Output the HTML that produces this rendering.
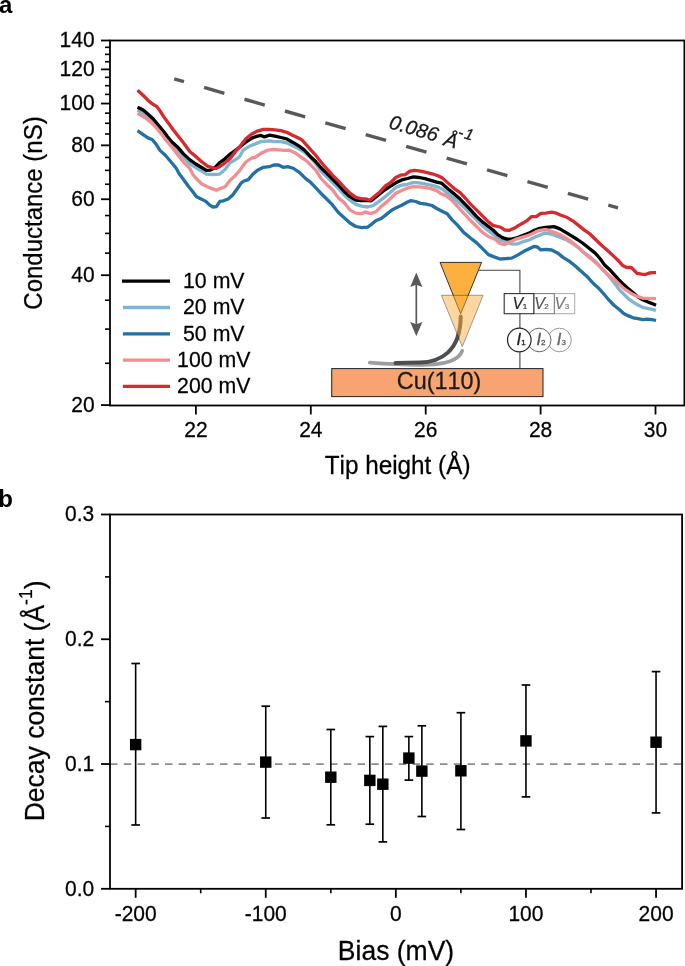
<!DOCTYPE html>
<html><head><meta charset="utf-8"><style>
html,body{margin:0;padding:0;background:#fff;}
body{width:685px;height:966px;overflow:hidden;}
svg{display:block;font-family:"Liberation Sans", sans-serif;will-change:transform;font-kerning:none;}
text{stroke:#000;stroke-width:0.25px;}
</style></head><body>
<svg width="685" height="966" viewBox="0 0 685 966">
<text x="-0.9" y="13.2" font-size="24" font-weight="bold" style="stroke-width:0">a</text>
<polyline points="137.5,130.7 142.8,134.3 147.9,137.9 152.1,139.5 155.7,143.6 160.0,150.4 165.8,155.7 171.7,162.7 176.4,168.5 179.0,173.4 183.7,179.8 188.4,186.2 193.0,192.0 196.5,196.7 201.2,199.0 205.9,201.4 209.4,204.9 212.9,207.0 216.4,206.6 219.9,201.4 223.4,200.8 228.1,199.0 232.7,195.0 237.4,188.5 240.9,183.3 243.5,181.3 248.2,179.6 252.8,174.3 257.5,170.2 263.4,167.3 269.2,166.7 273.9,165.0 278.5,165.0 283.2,167.3 287.9,166.7 293.7,168.5 299.6,172.6 305.4,178.4 310.1,181.9 314.7,186.7 320.8,193.2 326.7,199.0 332.5,204.9 338.4,212.5 344.2,217.7 350.0,223.0 355.9,226.5 361.7,227.7 367.6,227.1 371.1,224.7 375.7,220.7 381.6,218.3 387.4,213.6 392.0,210.0 395.8,207.9 401.7,205.3 407.5,202.0 411.0,200.6 415.7,201.5 420.4,203.4 426.2,204.1 432.0,205.5 436.7,208.5 442.6,211.4 447.2,213.7 451.9,219.6 457.7,225.4 463.6,232.4 470.8,238.2 476.7,242.9 482.5,248.7 488.4,254.6 494.2,256.9 500.0,259.0 505.9,258.6 511.7,258.1 517.6,255.1 523.4,251.6 529.2,248.7 533.9,246.4 537.4,247.0 540.9,249.9 545.8,249.4 551.7,250.0 557.5,252.9 563.4,257.6 569.2,261.1 575.0,265.7 580.9,271.0 586.7,276.2 592.6,282.7 598.4,287.9 604.7,295.0 609.5,300.7 614.2,305.5 619.0,309.3 623.7,313.5 628.5,315.9 633.2,317.8 638.0,318.7 642.7,319.7 647.4,319.2 652.2,319.7 656.0,320.5" fill="none" stroke="#2370a5" stroke-width="3.3" stroke-linejoin="round"/>
<polyline points="137.5,110.1 142.0,112.5 147.9,116.5 153.1,121.3 158.3,127.5 163.5,133.7 171.7,144.2 177.5,149.8 183.4,157.0 190.0,164.0 195.8,167.5 201.7,171.0 206.4,174.2 213.4,174.5 219.2,174.2 222.7,171.6 226.2,168.1 230.0,162.8 235.1,159.9 239.7,156.5 243.5,149.8 249.3,146.3 255.2,143.9 261.0,141.6 269.2,140.8 275.0,141.6 280.9,141.6 286.7,142.8 292.6,145.7 298.4,148.6 304.2,152.1 310.1,157.4 315.9,163.8 320.8,171.0 326.7,176.9 332.5,182.7 338.4,188.5 344.2,195.0 350.0,200.2 355.9,204.3 361.7,206.1 367.6,207.0 373.4,205.5 379.2,201.4 385.1,196.7 390.9,192.0 395.8,187.4 401.7,185.1 407.5,184.3 413.4,182.4 419.2,182.8 425.0,183.9 430.9,185.1 436.7,186.6 442.6,189.2 448.4,193.9 454.2,198.5 460.1,203.8 465.5,208.8 470.8,214.3 476.7,220.1 482.5,226.0 488.4,230.6 494.2,235.3 500.0,240.0 505.9,241.7 511.7,244.1 517.6,243.8 523.4,241.7 529.2,240.0 535.1,237.0 539.7,235.3 544.7,233.0 549.3,233.6 555.2,235.4 561.0,237.7 566.9,240.0 572.7,243.5 578.5,247.6 584.4,252.9 590.2,257.0 596.1,262.2 600.0,266.6 604.7,271.5 609.5,277.0 614.2,282.7 619.0,289.3 623.7,294.1 628.5,298.8 633.2,302.1 638.0,305.0 642.7,307.4 647.4,308.3 652.2,309.3 656.0,310.4" fill="none" stroke="#7fb5d0" stroke-width="3.3" stroke-linejoin="round"/>
<polyline points="137.5,107.2 140.2,108.5 143.8,110.5 147.9,114.1 153.1,118.8 158.3,125.0 163.5,131.2 167.0,136.0 171.7,141.7 177.5,146.9 183.4,153.9 190.0,159.9 195.8,164.0 201.7,167.5 206.4,170.4 210.4,170.1 214.5,168.1 219.2,163.1 225.0,158.8 230.0,154.1 232.7,152.3 238.8,147.7 245.8,142.2 251.7,138.1 257.5,136.1 261.0,135.4 264.5,136.9 269.2,135.2 275.0,136.1 280.9,137.5 286.7,138.9 292.6,142.2 298.4,145.7 304.2,149.8 310.1,156.2 315.9,161.8 320.8,167.5 326.7,173.4 332.5,179.2 338.4,185.0 344.2,191.5 350.0,196.7 355.9,200.2 361.0,200.6 365.2,200.4 371.1,200.8 376.9,196.1 382.7,191.5 388.6,187.4 395.8,182.8 401.7,179.9 407.5,178.5 413.4,176.9 419.2,177.5 425.0,178.7 430.9,180.4 436.7,182.2 441.4,183.1 448.4,189.2 454.2,193.9 460.1,199.1 465.5,204.7 470.8,210.2 476.7,216.6 482.5,221.9 488.4,226.5 493.0,230.0 497.7,234.7 502.4,237.6 507.0,239.1 511.7,239.1 517.6,237.6 523.4,235.3 529.2,233.0 535.1,230.0 539.7,228.3 545.8,227.4 554.0,226.6 559.9,228.9 565.7,232.4 571.5,235.9 577.4,239.5 583.2,243.5 589.1,248.2 594.9,252.9 600.0,258.5 604.7,265.1 609.5,269.4 614.2,274.6 619.0,279.8 623.7,284.6 628.5,288.9 633.2,292.7 638.0,296.9 642.7,299.8 647.4,301.7 652.2,303.6 656.0,305.3" fill="none" stroke="#000000" stroke-width="3.3" stroke-linejoin="round"/>
<polyline points="137.5,113.4 140.2,114.9 145.3,117.8 150.5,121.9 155.7,127.1 160.9,133.3 165.8,139.9 171.7,146.9 177.5,154.5 183.4,162.1 190.0,168.7 192.9,174.5 195.8,178.0 201.7,183.9 207.5,186.8 213.4,189.1 216.3,190.3 219.2,189.1 225.0,186.8 230.0,180.4 235.1,175.7 239.7,170.4 245.8,162.0 251.7,158.0 255.2,157.4 261.0,153.3 266.9,150.4 272.7,149.4 278.5,149.8 284.4,150.4 289.0,150.1 294.9,152.7 300.7,156.8 306.6,160.9 312.4,166.7 315.9,170.5 320.8,178.0 326.7,184.5 332.5,189.7 338.4,197.9 344.2,202.6 350.0,210.1 355.9,213.1 361.7,213.6 365.2,211.9 369.9,213.6 375.7,211.9 381.6,206.1 387.4,201.4 395.8,193.3 401.7,190.4 407.5,188.0 413.4,186.6 419.2,186.9 425.0,187.4 430.9,188.6 436.7,190.6 441.4,193.9 446.1,195.6 451.9,200.3 457.7,206.7 463.6,213.1 470.8,220.7 476.7,226.5 482.5,232.4 488.4,236.5 495.4,239.4 500.0,243.5 504.7,244.6 509.4,242.3 515.2,239.4 521.1,237.6 526.9,235.9 532.7,233.5 538.6,230.6 545.8,229.5 551.7,231.3 557.5,233.6 563.4,236.5 569.2,240.0 575.0,244.7 580.9,249.9 586.7,255.2 592.6,259.9 598.4,265.1 604.7,271.3 609.5,276.1 614.2,279.8 619.0,284.1 623.7,288.4 628.5,291.7 633.2,294.6 638.0,296.7 642.7,298.1 647.4,298.3 656.0,298.6" fill="none" stroke="#f28e90" stroke-width="3.3" stroke-linejoin="round"/>
<polyline points="137.5,90.3 142.8,95.0 147.9,100.2 152.1,103.8 156.7,106.4 159.8,110.5 164.0,117.2 168.0,122.5 173.4,130.0 177.5,135.3 183.4,142.8 190.0,151.8 195.8,156.4 201.7,161.7 207.5,166.1 213.4,168.1 216.3,168.4 219.2,166.9 225.0,162.8 230.0,158.8 235.1,151.9 238.8,147.9 245.8,138.7 251.7,134.0 257.5,131.1 263.4,129.3 269.2,129.3 275.0,129.9 280.9,130.7 286.7,132.3 292.6,135.2 298.4,138.1 301.9,139.9 306.6,145.1 311.2,150.4 315.9,155.4 320.8,161.7 326.7,168.7 332.5,175.1 338.4,180.9 344.2,187.4 350.0,193.2 355.9,197.3 361.7,198.8 366.4,199.0 369.9,200.2 373.4,197.3 379.2,192.6 385.1,186.2 390.9,182.3 395.8,177.5 400.5,175.2 405.2,174.6 409.9,171.1 414.5,170.3 420.4,171.1 426.2,172.3 432.0,173.8 437.9,175.8 442.6,178.1 448.4,183.4 454.2,188.6 460.1,192.7 465.6,198.5 470.8,204.3 476.7,210.2 482.5,216.0 488.4,221.9 493.0,225.4 497.7,226.5 501.2,227.5 504.7,230.0 509.4,230.3 514.0,228.3 518.7,225.4 523.4,222.8 526.9,220.7 531.6,216.6 536.2,216.6 540.9,213.3 545.8,213.2 551.7,212.2 556.4,213.2 561.0,215.3 566.9,217.3 572.7,220.8 578.5,225.4 584.4,230.1 590.2,234.2 596.1,240.0 600.0,243.8 604.7,248.1 609.5,252.3 614.2,256.6 619.0,261.3 622.8,265.6 626.6,267.5 631.3,267.5 634.2,270.4 637.0,273.4 641.7,274.2 645.5,274.6 649.3,273.0 653.1,272.7 656.0,272.7" fill="none" stroke="#d62a2e" stroke-width="3.3" stroke-linejoin="round"/>
<line x1="174.2" y1="78.8" x2="618" y2="207.9" stroke="#58595b" stroke-width="3.4" stroke-dasharray="21.15 20.95" stroke-dashoffset="11"/>
<g transform="translate(388,128) rotate(16)" font-style="italic" fill="#1a1a1a" style="stroke:#1a1a1a"><text x="0" y="0" font-size="20">0.086</text><text x="57.2" y="1.2" font-size="20">Å</text><text x="69" y="-10.7" font-size="15.4">-</text><text x="75.4" y="-10.9" font-size="15.6">1</text></g>
<rect x="110.0" y="40.5" width="574.4" height="365.0" fill="none" stroke="#000" stroke-width="1.8"/>
<line x1="105.0" y1="363.27" x2="110.0" y2="363.27" stroke="#000" stroke-width="1.6"/>
<line x1="105.0" y1="329.11" x2="110.0" y2="329.11" stroke="#000" stroke-width="1.6"/>
<line x1="105.0" y1="300.23" x2="110.0" y2="300.23" stroke="#000" stroke-width="1.6"/>
<line x1="101.0" y1="275.21" x2="110.0" y2="275.21" stroke="#000" stroke-width="1.8"/>
<text transform="translate(94.60,282.01) scale(1,1.09)" font-size="21.0" text-anchor="end">40</text>
<line x1="105.0" y1="253.14" x2="110.0" y2="253.14" stroke="#000" stroke-width="1.6"/>
<line x1="105.0" y1="233.40" x2="110.0" y2="233.40" stroke="#000" stroke-width="1.6"/>
<line x1="105.0" y1="215.55" x2="110.0" y2="215.55" stroke="#000" stroke-width="1.6"/>
<line x1="101.0" y1="199.25" x2="110.0" y2="199.25" stroke="#000" stroke-width="1.8"/>
<text transform="translate(94.60,206.05) scale(1,1.09)" font-size="21.0" text-anchor="end">60</text>
<line x1="105.0" y1="184.25" x2="110.0" y2="184.25" stroke="#000" stroke-width="1.6"/>
<line x1="105.0" y1="170.36" x2="110.0" y2="170.36" stroke="#000" stroke-width="1.6"/>
<line x1="105.0" y1="157.44" x2="110.0" y2="157.44" stroke="#000" stroke-width="1.6"/>
<line x1="101.0" y1="145.35" x2="110.0" y2="145.35" stroke="#000" stroke-width="1.8"/>
<text transform="translate(94.60,152.15) scale(1,1.09)" font-size="21.0" text-anchor="end">80</text>
<line x1="105.0" y1="133.99" x2="110.0" y2="133.99" stroke="#000" stroke-width="1.6"/>
<line x1="105.0" y1="123.28" x2="110.0" y2="123.28" stroke="#000" stroke-width="1.6"/>
<line x1="105.0" y1="113.15" x2="110.0" y2="113.15" stroke="#000" stroke-width="1.6"/>
<line x1="101.0" y1="103.54" x2="110.0" y2="103.54" stroke="#000" stroke-width="1.8"/>
<text transform="translate(94.60,110.34) scale(1,1.09)" font-size="21.0" text-anchor="end">100</text>
<line x1="105.0" y1="94.40" x2="110.0" y2="94.40" stroke="#000" stroke-width="1.6"/>
<line x1="105.0" y1="85.68" x2="110.0" y2="85.68" stroke="#000" stroke-width="1.6"/>
<line x1="105.0" y1="77.35" x2="110.0" y2="77.35" stroke="#000" stroke-width="1.6"/>
<line x1="101.0" y1="69.38" x2="110.0" y2="69.38" stroke="#000" stroke-width="1.8"/>
<text transform="translate(94.60,76.18) scale(1,1.09)" font-size="21.0" text-anchor="end">120</text>
<line x1="105.0" y1="61.73" x2="110.0" y2="61.73" stroke="#000" stroke-width="1.6"/>
<line x1="105.0" y1="54.38" x2="110.0" y2="54.38" stroke="#000" stroke-width="1.6"/>
<line x1="105.0" y1="47.31" x2="110.0" y2="47.31" stroke="#000" stroke-width="1.6"/>
<line x1="101.0" y1="40.50" x2="110.0" y2="40.50" stroke="#000" stroke-width="1.8"/>
<text transform="translate(94.60,47.30) scale(1,1.09)" font-size="21.0" text-anchor="end">140</text>
<line x1="101.0" y1="405.08" x2="110.0" y2="405.08" stroke="#000" stroke-width="1.8"/>
<text transform="translate(94.60,411.88) scale(1,1.09)" font-size="21.0" text-anchor="end">20</text>
<line x1="195.90" y1="405.5" x2="195.90" y2="414.5" stroke="#000" stroke-width="1.8"/>
<text transform="translate(195.90,437.20) scale(1,1.09)" font-size="21.0" text-anchor="middle">22</text>
<line x1="310.80" y1="405.5" x2="310.80" y2="414.5" stroke="#000" stroke-width="1.8"/>
<text transform="translate(310.80,437.20) scale(1,1.09)" font-size="21.0" text-anchor="middle">24</text>
<line x1="425.70" y1="405.5" x2="425.70" y2="414.5" stroke="#000" stroke-width="1.8"/>
<text transform="translate(425.70,437.20) scale(1,1.09)" font-size="21.0" text-anchor="middle">26</text>
<line x1="540.60" y1="405.5" x2="540.60" y2="414.5" stroke="#000" stroke-width="1.8"/>
<text transform="translate(540.60,437.20) scale(1,1.09)" font-size="21.0" text-anchor="middle">28</text>
<line x1="655.50" y1="405.5" x2="655.50" y2="414.5" stroke="#000" stroke-width="1.8"/>
<text transform="translate(655.50,437.20) scale(1,1.09)" font-size="21.0" text-anchor="middle">30</text>
<text transform="translate(397.6,473.7) scale(1,1.03)" font-size="24.3" text-anchor="middle">Tip height (Å)</text>
<text transform="translate(41.8,213) rotate(-90) scale(1,1.05)" font-size="24" text-anchor="middle">Conductance (nS)</text>
<line x1="122" y1="281.2" x2="170" y2="281.2" stroke="#000000" stroke-width="3.3"/>
<text transform="translate(213.80,288.00) scale(1,1.06)" font-size="21.3" text-anchor="middle">10 mV</text>
<line x1="122.9" y1="307.5" x2="170" y2="307.5" stroke="#7fb5d0" stroke-width="3.3"/>
<text transform="translate(213.80,314.30) scale(1,1.06)" font-size="21.3" text-anchor="middle">20 mV</text>
<line x1="122.9" y1="333.8" x2="170" y2="333.8" stroke="#2370a5" stroke-width="3.3"/>
<text transform="translate(213.80,340.60) scale(1,1.06)" font-size="21.3" text-anchor="middle">50 mV</text>
<line x1="122.9" y1="360.1" x2="170" y2="360.1" stroke="#f28e90" stroke-width="3.3"/>
<text transform="translate(213.80,366.90) scale(1,1.06)" font-size="21.3" text-anchor="middle">100 mV</text>
<line x1="122.9" y1="386.4" x2="170" y2="386.4" stroke="#d62a2e" stroke-width="3.3"/>
<text transform="translate(213.80,393.20) scale(1,1.06)" font-size="21.3" text-anchor="middle">200 mV</text>
<rect x="331.7" y="368.6" width="211.3" height="28" fill="#f7a470" stroke="#222" stroke-width="1"/>
<text transform="translate(439.00,389.30) scale(1,1.04)" font-size="23.4" text-anchor="middle" fill="#1a1a1a" style="stroke:#1a1a1a">Cu(110)</text>
<polyline points="479,270.3 519.9,270.3 519.9,293.6" fill="none" stroke="#444" stroke-width="1.1"/>
<line x1="519.9" y1="313.7" x2="519.9" y2="328" stroke="#444" stroke-width="1.1"/>
<line x1="519.9" y1="352.3" x2="519.9" y2="368.6" stroke="#444" stroke-width="1.1"/>
<rect x="554.3" y="293.6" width="20.4" height="20.1" fill="#fff" stroke="#aaa" stroke-width="1"/>
<rect x="533.8" y="293.6" width="20.5" height="20.1" fill="#fff" stroke="#777" stroke-width="1"/>
<rect x="504.2" y="293.6" width="29.6" height="20.1" fill="#fff" stroke="#333" stroke-width="1.1"/>
<text x="512.5" y="309" font-size="16" font-style="italic" fill="#222" style="stroke:#222;stroke-width:0.15px">V<tspan font-size="8" font-style="normal" dx="-0.5">1</tspan></text>
<text x="534.2" y="309" font-size="16" font-style="italic" fill="#555" style="stroke:#555;stroke-width:0.15px">V<tspan font-size="8" font-style="normal" dx="-0.5">2</tspan></text>
<text x="554.6" y="309" font-size="16" font-style="italic" fill="#777" style="stroke:#777;stroke-width:0.15px">V<tspan font-size="8" font-style="normal" dx="-0.5">3</tspan></text>
<circle cx="559.5" cy="340" r="11.8" fill="#fff" stroke="#999" stroke-width="1"/>
<circle cx="539.2" cy="340" r="11.8" fill="#fff" stroke="#666" stroke-width="1"/>
<circle cx="519.3" cy="340" r="11.8" fill="#fff" stroke="#222" stroke-width="1.2"/>
<text x="516.6" y="344.8" font-size="16.5" font-style="italic" fill="#222" style="stroke:#222;stroke-width:0.3px">I<tspan font-size="8" font-style="normal">1</tspan></text>
<text x="536.5" y="344.8" font-size="16.5" font-style="italic" fill="#555" style="stroke:#555;stroke-width:0.3px">I<tspan font-size="8" font-style="normal">2</tspan></text>
<text x="556.8" y="344.8" font-size="16.5" font-style="italic" fill="#666" style="stroke:#666;stroke-width:0.3px">I<tspan font-size="8" font-style="normal">3</tspan></text>
<path d="M369.8,362.7 C395,364.6 420,366 438,363.9 C452,362 460,357 462.2,350.8" fill="none" stroke="#9d9ea0" stroke-width="3.7" stroke-linecap="round"/>
<path d="M395.5,363 L420,362.6 C440,362 460.5,352 460.7,316.5" fill="none" stroke="#4d4e50" stroke-width="4" stroke-linecap="round"/>
<polygon points="440,262.4 481.6,262.4 460.7,313.8" fill="#fbb040" stroke="#333" stroke-width="1"/>
<polygon points="441.4,295.3 483.1,295.3 462.3,346.6" fill="#fbb040" stroke="#333" stroke-width="1" opacity="0.5"/>
<line x1="416.3" y1="284" x2="416.3" y2="325" stroke="#58595b" stroke-width="1.7"/>
<polygon points="416.3,272.6 422.4,287 416.3,284.8 410.2,287" fill="#58595b"/>
<polygon points="416.3,336.3 422.4,322 416.3,324.2 410.2,322" fill="#58595b"/>
<text x="-1.7" y="506.7" font-size="24" font-weight="bold" style="stroke-width:0">b</text>
<line x1="110.0" y1="764.03" x2="682.1" y2="764.03" stroke="#8c8c8c" stroke-width="1.7" stroke-dasharray="7.5 6.25"/>
<line x1="135.65" y1="663.5" x2="135.65" y2="825.0" stroke="#000" stroke-width="1.6"/>
<line x1="131.35" y1="663.5" x2="139.95" y2="663.5" stroke="#000" stroke-width="1.7"/>
<line x1="131.35" y1="825.0" x2="139.95" y2="825.0" stroke="#000" stroke-width="1.7"/>
<rect x="129.95" y="738.90" width="11.4" height="11.4" fill="#000"/>
<line x1="265.75" y1="706.2" x2="265.75" y2="818.0" stroke="#000" stroke-width="1.6"/>
<line x1="261.45" y1="706.2" x2="270.05" y2="706.2" stroke="#000" stroke-width="1.7"/>
<line x1="261.45" y1="818.0" x2="270.05" y2="818.0" stroke="#000" stroke-width="1.7"/>
<rect x="260.05" y="756.40" width="11.4" height="11.4" fill="#000"/>
<line x1="330.80" y1="729.5" x2="330.80" y2="824.8" stroke="#000" stroke-width="1.6"/>
<line x1="326.50" y1="729.5" x2="335.10" y2="729.5" stroke="#000" stroke-width="1.7"/>
<line x1="326.50" y1="824.8" x2="335.10" y2="824.8" stroke="#000" stroke-width="1.7"/>
<rect x="325.10" y="771.50" width="11.4" height="11.4" fill="#000"/>
<line x1="369.83" y1="736.6" x2="369.83" y2="824.2" stroke="#000" stroke-width="1.6"/>
<line x1="365.53" y1="736.6" x2="374.13" y2="736.6" stroke="#000" stroke-width="1.7"/>
<line x1="365.53" y1="824.2" x2="374.13" y2="824.2" stroke="#000" stroke-width="1.7"/>
<rect x="364.13" y="774.70" width="11.4" height="11.4" fill="#000"/>
<line x1="382.84" y1="726.4" x2="382.84" y2="841.9" stroke="#000" stroke-width="1.6"/>
<line x1="378.54" y1="726.4" x2="387.14" y2="726.4" stroke="#000" stroke-width="1.7"/>
<line x1="378.54" y1="841.9" x2="387.14" y2="841.9" stroke="#000" stroke-width="1.7"/>
<rect x="377.14" y="778.50" width="11.4" height="11.4" fill="#000"/>
<line x1="408.86" y1="736.6" x2="408.86" y2="780.1" stroke="#000" stroke-width="1.6"/>
<line x1="404.56" y1="736.6" x2="413.16" y2="736.6" stroke="#000" stroke-width="1.7"/>
<line x1="404.56" y1="780.1" x2="413.16" y2="780.1" stroke="#000" stroke-width="1.7"/>
<rect x="403.16" y="752.40" width="11.4" height="11.4" fill="#000"/>
<line x1="421.87" y1="725.8" x2="421.87" y2="816.5" stroke="#000" stroke-width="1.6"/>
<line x1="417.57" y1="725.8" x2="426.17" y2="725.8" stroke="#000" stroke-width="1.7"/>
<line x1="417.57" y1="816.5" x2="426.17" y2="816.5" stroke="#000" stroke-width="1.7"/>
<rect x="416.17" y="765.40" width="11.4" height="11.4" fill="#000"/>
<line x1="460.90" y1="712.7" x2="460.90" y2="829.5" stroke="#000" stroke-width="1.6"/>
<line x1="456.60" y1="712.7" x2="465.20" y2="712.7" stroke="#000" stroke-width="1.7"/>
<line x1="456.60" y1="829.5" x2="465.20" y2="829.5" stroke="#000" stroke-width="1.7"/>
<rect x="455.20" y="765.10" width="11.4" height="11.4" fill="#000"/>
<line x1="525.95" y1="685.0" x2="525.95" y2="796.9" stroke="#000" stroke-width="1.6"/>
<line x1="521.65" y1="685.0" x2="530.25" y2="685.0" stroke="#000" stroke-width="1.7"/>
<line x1="521.65" y1="796.9" x2="530.25" y2="796.9" stroke="#000" stroke-width="1.7"/>
<rect x="520.25" y="735.20" width="11.4" height="11.4" fill="#000"/>
<line x1="656.05" y1="671.6" x2="656.05" y2="812.9" stroke="#000" stroke-width="1.6"/>
<line x1="651.75" y1="671.6" x2="660.35" y2="671.6" stroke="#000" stroke-width="1.7"/>
<line x1="651.75" y1="812.9" x2="660.35" y2="812.9" stroke="#000" stroke-width="1.7"/>
<rect x="650.35" y="736.50" width="11.4" height="11.4" fill="#000"/>
<rect x="110.0" y="514.5" width="572.1" height="374.29999999999995" fill="none" stroke="#000" stroke-width="1.8"/>
<line x1="101.0" y1="888.80" x2="110.0" y2="888.80" stroke="#000" stroke-width="1.8"/>
<text transform="translate(94.30,895.80) scale(1,1.09)" font-size="21.0" text-anchor="end">0.0</text>
<line x1="105.0" y1="826.41" x2="110.0" y2="826.41" stroke="#000" stroke-width="1.6"/>
<line x1="101.0" y1="764.03" x2="110.0" y2="764.03" stroke="#000" stroke-width="1.8"/>
<text transform="translate(94.30,771.03) scale(1,1.09)" font-size="21.0" text-anchor="end">0.1</text>
<line x1="105.0" y1="701.64" x2="110.0" y2="701.64" stroke="#000" stroke-width="1.6"/>
<line x1="101.0" y1="639.26" x2="110.0" y2="639.26" stroke="#000" stroke-width="1.8"/>
<text transform="translate(94.30,646.26) scale(1,1.09)" font-size="21.0" text-anchor="end">0.2</text>
<line x1="105.0" y1="576.88" x2="110.0" y2="576.88" stroke="#000" stroke-width="1.6"/>
<line x1="101.0" y1="514.49" x2="110.0" y2="514.49" stroke="#000" stroke-width="1.8"/>
<text transform="translate(94.30,521.49) scale(1,1.09)" font-size="21.0" text-anchor="end">0.3</text>
<line x1="135.65" y1="888.8" x2="135.65" y2="897.8" stroke="#000" stroke-width="1.8"/>
<text transform="translate(135.65,920.70) scale(1,1.09)" font-size="21.0" text-anchor="middle">-200</text>
<line x1="200.70" y1="888.8" x2="200.70" y2="893.3" stroke="#000" stroke-width="1.6"/>
<line x1="265.75" y1="888.8" x2="265.75" y2="897.8" stroke="#000" stroke-width="1.8"/>
<text transform="translate(265.75,920.70) scale(1,1.09)" font-size="21.0" text-anchor="middle">-100</text>
<line x1="330.80" y1="888.8" x2="330.80" y2="893.3" stroke="#000" stroke-width="1.6"/>
<line x1="395.85" y1="888.8" x2="395.85" y2="897.8" stroke="#000" stroke-width="1.8"/>
<text transform="translate(395.85,920.70) scale(1,1.09)" font-size="21.0" text-anchor="middle">0</text>
<line x1="460.90" y1="888.8" x2="460.90" y2="893.3" stroke="#000" stroke-width="1.6"/>
<line x1="525.95" y1="888.8" x2="525.95" y2="897.8" stroke="#000" stroke-width="1.8"/>
<text transform="translate(525.95,920.70) scale(1,1.09)" font-size="21.0" text-anchor="middle">100</text>
<line x1="591.00" y1="888.8" x2="591.00" y2="893.3" stroke="#000" stroke-width="1.6"/>
<line x1="656.05" y1="888.8" x2="656.05" y2="897.8" stroke="#000" stroke-width="1.8"/>
<text transform="translate(656.05,920.70) scale(1,1.09)" font-size="21.0" text-anchor="middle">200</text>
<text transform="translate(396,960.4) scale(1,1.07)" font-size="26.5" text-anchor="middle">Bias (mV)</text>
<text transform="translate(43.9,700.9) rotate(-90) scale(1,1.05)" font-size="26.5" text-anchor="middle">Decay constant (Å<tspan dy="-10.9" font-size="17.5">-1</tspan><tspan dy="10.9">)</tspan></text>
</svg>
</body></html>
